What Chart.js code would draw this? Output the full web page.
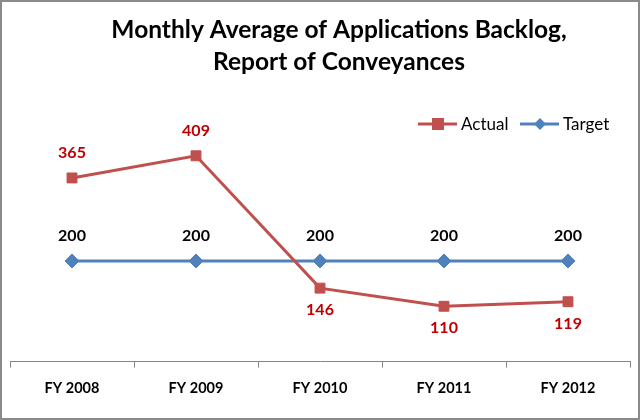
<!DOCTYPE html>
<html>
<head>
<meta charset="utf-8">
<script src="https://cdn.jsdelivr.net/npm/chart.js@4/dist/chart.umd.min.js"></script>
<style>
  html, body { margin: 0; padding: 0; background: #fff; }
  #wrap { width: 640px; height: 420px; box-sizing: border-box; border: 2px solid #8a8a8a; }
  canvas { display: block; }
</style>
</head>
<body>
<div id="wrap"><canvas id="c" width="636" height="416"></canvas></div>
<script>
// data
const years = ['FY 2008', 'FY 2009', 'FY 2010', 'FY 2011', 'FY 2012'];
const actual = [365, 409, 146, 110, 119];
const target = [200, 200, 200, 200, 200];
const titleLines = ['Monthly Average of Applications Backlog,', 'Report of Conveyances'];

const RED = '#C0504D';
const BLUE = '#4F81BD';
const FONT = 'Lato, "Open Sans", sans-serif';

// title, legend and value labels drawn on the canvas
const extras = {
    id: 'extras',
    afterDatasetsDraw(chart) {
        const ctx = chart.ctx;
        ctx.save();

        // title
        ctx.fillStyle = '#000';
        ctx.font = 'bold 24.5px ' + FONT;
        ctx.textAlign = 'center';
        ctx.textBaseline = 'middle';
        ctx.fillText(titleLines[0], 337, 28);
        ctx.fillText(titleLines[1], 337, 60);

        // value labels
        ctx.font = 'bold 16px ' + FONT;
        chart.data.datasets.forEach((ds, i) => {
            const meta = chart.getDatasetMeta(i);
            meta.data.forEach((pt, j) => {
                const v = ds.data[j];
                const below = i === 0 && v < 200;
                ctx.fillStyle = i === 0 ? '#C00000' : '#000';
                ctx.fillText(String(v), pt.x, below ? pt.y + 22 : pt.y - 25);
            });
        });

        // legend
        const ly = 122;
        const items = [
            { x: 416, label: 'Actual', color: RED, shape: 'rect' },
            { x: 518, label: 'Target', color: BLUE, shape: 'rectRot' }
        ];
        ctx.font = '17px ' + FONT;
        ctx.textAlign = 'left';
        items.forEach(it => {
            ctx.strokeStyle = it.color;
            ctx.lineWidth = 3;
            ctx.beginPath();
            ctx.moveTo(it.x, ly);
            ctx.lineTo(it.x + 39, ly);
            ctx.stroke();
            ctx.fillStyle = it.color;
            ctx.beginPath();
            if (it.shape === 'rect') {
                ctx.rect(it.x + 14, ly - 6, 12, 12);
            } else {
                ctx.moveTo(it.x + 20, ly - 6);
                ctx.lineTo(it.x + 26, ly);
                ctx.lineTo(it.x + 20, ly + 6);
                ctx.lineTo(it.x + 14, ly);
                ctx.closePath();
            }
            ctx.fill();
            ctx.fillStyle = '#000';
            ctx.textBaseline = 'middle';
            ctx.fillText(it.label, it.x + 43, ly + 1);
        });

        ctx.restore();
    }
};

new Chart(document.getElementById('c'), {
    type: 'line',
    data: {
        labels: years,
        datasets: [{
            label: 'Actual',
            data: actual,
            borderColor: RED,
            backgroundColor: RED,
            borderWidth: 3,
            pointStyle: 'rect',
            pointRadius: 7,
            pointBorderWidth: 1,
            tension: 0
        }, {
            label: 'Target',
            data: target,
            borderColor: BLUE,
            backgroundColor: BLUE,
            borderWidth: 3,
            pointStyle: 'rectRot',
            pointRadius: 7,
            pointBorderWidth: 1,
            tension: 0
        }]
    },
    options: {
        responsive: false,
        animation: false,
        layout: { padding: { top: 108, left: 6, right: 8, bottom: 9 } },
        plugins: {
            legend: { display: false },
            title: { display: false },
            tooltip: { enabled: false }
        },
        scales: {
            x: {
                offset: true,
                grid: { offset: true, drawOnChartArea: false, drawTicks: true, tickLength: 6, color: '#868686' },
                border: { display: true, color: '#868686', width: 1 },
                ticks: { color: '#000', font: { family: FONT, size: 14.5, weight: 'bold' }, padding: 12, maxRotation: 0 }
            },
            y: {
                display: false,
                min: 0,
                max: 500
            }
        }
    },
    plugins: [extras]
});
</script>
</body>
</html>
